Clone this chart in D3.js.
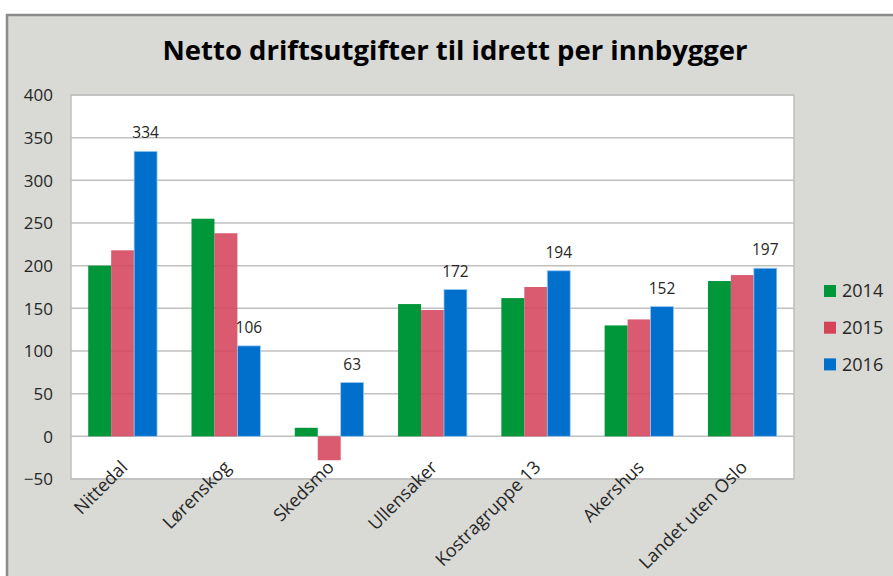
<!DOCTYPE html>
<html><head><meta charset="utf-8">
<script src="https://cdn.jsdelivr.net/npm/d3@7"></script>
<style>body{margin:0;background:#fff;}svg{display:block;}</style>
</head><body>
<script>
const categories = ["Nittedal","Lørenskog","Skedsmo","Ullensaker","Kostragruppe 13","Akershus","Landet uten Oslo"];
const years = ["2014","2015","2016"];
const v2014 = [200,255,10,155,162,130,182];
const v2015 = [218,238,-28,148,175,137,189];
const v2016 = [334,106,63,172,194,152,197];
const yTicks = [-50,0,50,100,150,200,250,300,350,400];
const colors = ["#00963a","#d5435b","#0070cc"];
const title = "Netto driftsutgifter til idrett per innbygger";

const W=893,H=576;
const svg=d3.select("body").append("svg").attr("width",W).attr("height",H);
svg.append("rect").attr("x",0).attr("y",0).attr("width",W).attr("height",H).attr("fill","#fff");
svg.append("rect").attr("x",7).attr("y",15).attr("width",W+10).attr("height",H+10)
  .attr("fill","#d9d9d5").attr("stroke","#8c8c8c").attr("stroke-width",2.5);

const pl=71,pr=794,pt=95,pb=479;
const x=d3.scaleBand().domain(categories).range([pl,pr]).paddingInner(1/3).paddingOuter(1/6);
const xs=d3.scaleBand().domain(years).range([0,x.bandwidth()]);
const y=d3.scaleLinear().domain([-50,400]).range([pb,pt]);

svg.append("rect").attr("x",pl).attr("y",pt).attr("width",pr-pl).attr("height",pb-pt)
  .attr("fill","#fff").attr("stroke","#c0c0c0").attr("stroke-width",1.5);

svg.append("g").selectAll("line").data(yTicks).join("line")
  .attr("x1",pl).attr("x2",pr).attr("y1",d=>y(d)).attr("y2",d=>y(d))
  .attr("stroke","#c0c0c0").attr("stroke-width",1.5);

const series=[v2014,v2015,v2016];
series.forEach((vals,si)=>{
  svg.append("g").selectAll("rect").data(categories).join("rect")
    .attr("x",c=>x(c)+xs(years[si]))
    .attr("width",xs.bandwidth())
    .attr("y",(c,i)=>Math.min(y(vals[i]),y(0)))
    .attr("height",(c,i)=>Math.abs(y(vals[i])-y(0)))
    .attr("fill",colors[si])
    .attr("fill-opacity",si===1?0.88:1)
    .attr("stroke",si===2?"#9cc8ef":"none").attr("stroke-width",si===2?0.8:0);
});

// data labels 2016
svg.append("g").selectAll("text").data(categories).join("text")
  .attr("x",c=>x(c)+xs("2016")+xs.bandwidth()/2)
  .attr("y",(c,i)=>y(v2016[i])-13)
  .attr("text-anchor","middle")
  .attr("font-family","Open Sans").attr("font-size",15.5).attr("fill","#262626")
  .text((c,i)=>v2016[i]);

// y axis labels
const yAxis=d3.axisLeft(y).tickValues(yTicks).tickSize(0).tickPadding(0);
const ya=svg.append("g").attr("transform",`translate(${pl-18},0)`).call(yAxis);
ya.select(".domain").remove();
ya.selectAll("text").attr("font-family","Open Sans").attr("font-size",17).attr("fill","#262626").attr("dy","0.35em");

// x axis labels
const xAxis=d3.axisBottom(x).tickSize(0).tickPadding(0);
const xa=svg.append("g").attr("transform",`translate(0,${y(0)})`).call(xAxis);
xa.select(".domain").remove();
xa.selectAll("text").attr("font-family","Open Sans").attr("font-size",18).attr("fill","#262626")
  .attr("text-anchor","end").attr("dy",null).attr("y",0)
  .attr("transform","translate(6,32) rotate(-45)");

// title
svg.append("text").attr("x",455).attr("y",60).attr("text-anchor","middle")
  .attr("font-family","Open Sans").attr("font-weight","bold").attr("font-size",27)
  .attr("fill","#000").attr("textLength",585).attr("lengthAdjust","spacingAndGlyphs")
  .text(title);

// legend
const lg=svg.append("g");
years.forEach((yr,i)=>{
  const cy=291+i*36.7;
  lg.append("rect").attr("x",824).attr("y",cy-6).attr("width",12).attr("height",12).attr("fill",colors[i]);
  lg.append("text").attr("x",842).attr("y",cy).attr("dy","0.35em")
    .attr("font-family","Open Sans").attr("font-size",18).attr("fill","#262626").text(yr);
});
</script>
</body></html>
